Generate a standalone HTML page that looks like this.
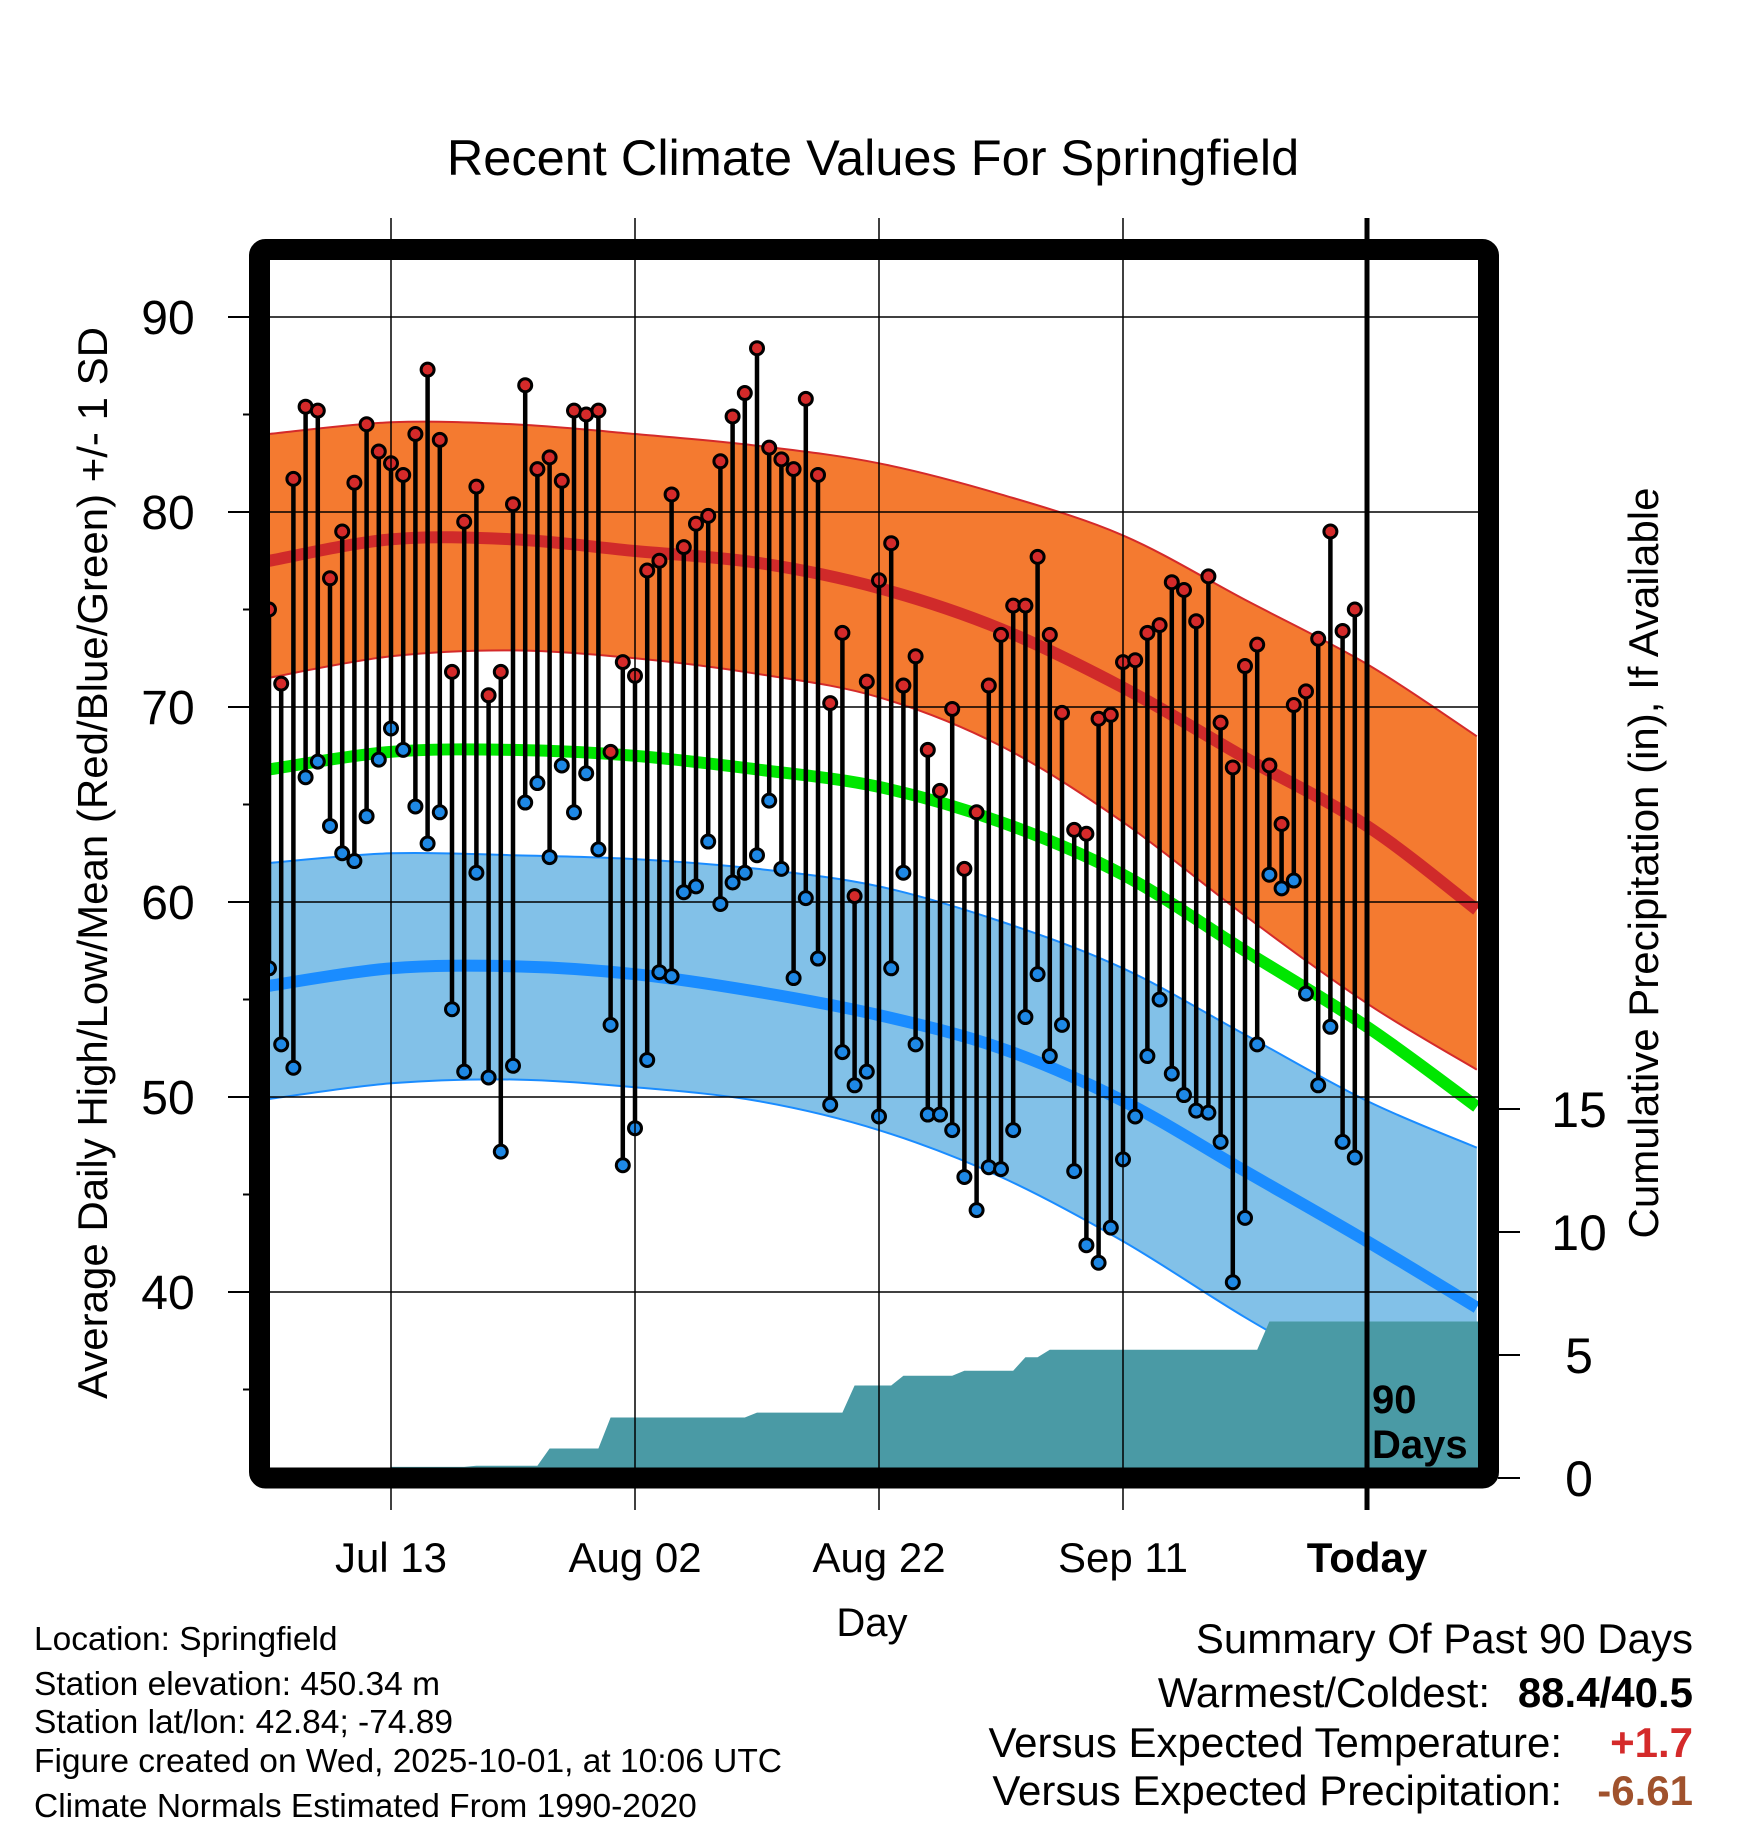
<!DOCTYPE html>
<html><head><meta charset="utf-8"><style>
html,body{margin:0;padding:0;background:#fff}
svg{display:block;font-family:"Liberation Sans",Arial,sans-serif}
</style></head><body>
<svg id="chart" width="1748" height="1828" viewBox="0 0 1748 1828" xmlns="http://www.w3.org/2000/svg">
<defs><clipPath id="plotclip"><rect x="270" y="260" width="1208" height="1208"/></clipPath></defs>
<g id="bg"></g>
<g id="plot" clip-path="url(#plotclip)"></g>
<g id="axes"></g>
<text x="873" y="175" font-size="50.5" text-anchor="middle">Recent Climate Values For Springfield</text>
<text transform="translate(107,863) rotate(-90)" font-size="42" text-anchor="middle">Average Daily High/Low/Mean (Red/Blue/Green) +/- 1 SD</text>
<text transform="translate(1658,863) rotate(-90)" font-size="42" text-anchor="middle">Cumulative Precipitation (in), If Available</text>
<text x="872" y="1636" font-size="40" text-anchor="middle">Day</text>
<g font-size="33.5">
<text x="34" y="1650">Location: Springfield</text>
<text x="34" y="1695">Station elevation: 450.34 m</text>
<text x="34" y="1733">Station lat/lon: 42.84; -74.89</text>
<text x="34" y="1772">Figure created on Wed, 2025-10-01, at 10:06 UTC</text>
<text x="34" y="1817">Climate Normals Estimated From 1990-2020</text>
</g>
<g font-size="42" text-anchor="end">
<text x="1693" y="1653">Summary Of Past 90 Days</text>
<text x="1490" y="1707">Warmest/Coldest:</text>
<text x="1693" y="1707" font-weight="bold">88.4/40.5</text>
<text x="1562" y="1757">Versus Expected Temperature:</text>
<text x="1693" y="1757" font-weight="bold" fill="#d42a2a">+1.7</text>
<text x="1562" y="1805">Versus Expected Precipitation:</text>
<text x="1693" y="1805" font-weight="bold" fill="#a0522d">-6.61</text>
</g>
</svg>
<script>
// ---- data ----
const highs=[75,71.2,81.7,85.4,85.2,76.6,79.0,81.5,84.5,83.1,82.5,81.9,84.0,87.3,83.7,71.8,79.5,81.3,70.6,71.8,80.4,86.5,82.2,82.8,81.6,85.2,85.0,85.2,67.7,72.3,71.6,77.0,77.5,80.9,78.2,79.4,79.8,82.6,84.9,86.1,88.4,83.3,82.7,82.2,85.8,81.9,70.2,73.8,60.3,71.3,76.5,78.4,71.1,72.6,67.8,65.7,69.9,61.7,64.6,71.1,73.7,75.2,75.2,77.7,73.7,69.7,63.7,63.5,69.4,69.6,72.3,72.4,73.8,74.2,76.4,76.0,74.4,76.7,69.2,66.9,72.1,73.2,67.0,64.0,70.1,70.8,73.5,79.0,73.9,75.0];
const lows=[56.6,52.7,51.5,66.4,67.2,63.9,62.5,62.1,64.4,67.3,68.9,67.8,64.9,63.0,64.6,54.5,51.3,61.5,51.0,47.2,51.6,65.1,66.1,62.3,67.0,64.6,66.6,62.7,53.7,46.5,48.4,51.9,56.4,56.2,60.5,60.8,63.1,59.9,61.0,61.5,62.4,65.2,61.7,56.1,60.2,57.1,49.6,52.3,50.6,51.3,49.0,56.6,61.5,52.7,49.1,49.1,48.3,45.9,44.2,46.4,46.3,48.3,54.1,56.3,52.1,53.7,46.2,42.4,41.5,43.3,46.8,49.0,52.1,55.0,51.2,50.1,49.3,49.2,47.7,40.5,43.8,52.7,61.4,60.7,61.1,55.3,50.6,53.6,47.7,46.9];
const dailyPrecip=[0,0,0,0,0,0,0,0,0,0,0.45,0,0,0,0,0,0,0.05,0,0,0,0,0,0.7,0,0,0,0,1.26,0,0,0,0,0,0,0,0,0,0,0,0.2,0,0,0,0,0,0,0,1.1,0,0,0,0.4,0,0,0,0,0.2,0,0,0,0,0.55,0,0.3,0,0,0,0,0,0,0,0,0,0,0,0,0,0,0,0,0,1.15,0,0,0,0,0,0,0];
const normDays=[0,10,20,30,40,50,60,70,80,90,99];
const normHigh=[77.5,78.6,78.6,78.0,77.4,76.1,74.0,71.0,67.4,63.9,59.6];
const normHighUp=[84.0,84.6,84.5,84.0,83.4,82.5,80.9,78.8,75.5,72.2,68.5];
const normHighDn=[71.5,72.6,72.9,72.5,71.7,70.5,68.0,64.1,59.3,54.8,51.4];
const normMean=[66.8,67.7,67.8,67.5,66.8,65.9,64.1,61.4,57.5,53.6,49.5];
const normLow=[55.7,56.6,56.7,56.3,55.4,54.2,52.5,49.8,46.2,42.6,39.2];
const normLowUp=[62.0,62.5,62.4,62.2,61.7,60.8,59.0,56.6,53.2,49.8,47.4];
const normLowDn=[49.9,50.7,50.9,50.5,49.8,48.3,45.9,42.6,38.7,35.1,31.5];
const xTickLabels=["Jul 13","Aug 02","Aug 22","Sep 11","Today"];
const xTickDays=[10,30,50,70,90];
const yTicks=[40,50,60,70,80,90];
const yMinorTicks=[35,45,55,65,75,85];
const pTicks=[0,5,10,15];

// ---- scales ----
const NS="http://www.w3.org/2000/svg";
const dayX=d=>269+12.2*d;
const tY=t=>317+(90-t)*19.5;
const pY=p=>1478-p*24.6;
function mk(tag,attrs,parent){const e=document.createElementNS(NS,tag);for(const k in attrs)e.setAttribute(k,attrs[k]);parent.appendChild(e);return e;}
const plot=document.getElementById('plot'), axes=document.getElementById('axes'), bg=document.getElementById('bg');

mk('rect',{x:270,y:260,width:1208,height:1208,fill:'#fff'},bg);

function pts(arr){return normDays.map((d,i)=>[dayX(d),tY(arr[i])]);}
function smooth(p,start){
  let s=(start?'M':'L')+p[0][0].toFixed(1)+','+p[0][1].toFixed(1);
  for(let i=0;i<p.length-1;i++){
    const p0=p[Math.max(0,i-1)],p1=p[i],p2=p[i+1],p3=p[Math.min(p.length-1,i+2)];
    const c1=[p1[0]+(p2[0]-p0[0])/6,p1[1]+(p2[1]-p0[1])/6];
    const c2=[p2[0]-(p3[0]-p1[0])/6,p2[1]-(p3[1]-p1[1])/6];
    s+=' C'+c1[0].toFixed(1)+','+c1[1].toFixed(1)+' '+c2[0].toFixed(1)+','+c2[1].toFixed(1)+' '+p2[0].toFixed(1)+','+p2[1].toFixed(1);
  }
  return s;
}
function line(arr){return smooth(pts(arr),true);}
function band(up,dn){return smooth(pts(up),true)+' '+smooth(pts(dn).reverse(),false)+' Z';}

let e;
e=mk('path',{d:band(normHighUp,normHighDn),fill:'#f47a30'},plot);


e=mk('path',{d:band(normLowUp,normLowDn),fill:'#82c1e8'},plot);


[[normHighUp,'#d42a2a',2,'high-upper-line'],[normHighDn,'#d42a2a',2,'high-lower-line'],[normLowUp,'#1a8cff',2,'low-upper-line'],[normLowDn,'#1a8cff',2,'low-lower-line'],[normHigh,'#d02a2a',12,'normal-high-line'],[normMean,'#00e600',12,'normal-mean-line'],[normLow,'#1a8cff',12,'normal-low-line']].forEach(a=>{
  const p=mk('path',{d:line(a[0]),fill:'none',stroke:a[1],'stroke-width':a[2]},plot);
  
  
});

// grid
yTicks.forEach(t=>{mk('line',{x1:270,x2:1478,y1:tY(t),y2:tY(t),stroke:'#000','stroke-width':1.5},plot);});
xTickDays.forEach(d=>{mk('line',{x1:dayX(d),x2:dayX(d),y1:218,y2:1510,stroke:'#000','stroke-width':1.5},axes);});

// precipitation
let cum=0, pd='M'+dayX(0)+','+pY(0);
dailyPrecip.forEach((v,i)=>{cum+=v;pd+=' L'+dayX(i).toFixed(1)+','+pY(cum).toFixed(1);});
pd+=' L1480,'+pY(cum).toFixed(1)+' L1480,'+pY(0)+' Z';
e=mk('path',{d:pd,fill:'#4a9aa5'},plot);



// stems and dots
highs.forEach((h,i)=>{
  const x=dayX(i);
  const s=mk('line',{x1:x,x2:x,y1:tY(h),y2:tY(lows[i]),stroke:'#000','stroke-width':4.5},plot);
  
  
});
highs.forEach((h,i)=>{
  const x=dayX(i);
  const a=mk('circle',{cx:x,cy:tY(h),r:6.5,fill:'#d42a2a',stroke:'#000','stroke-width':3},plot);
  
  
  const b=mk('circle',{cx:x,cy:tY(lows[i]),r:6.5,fill:'#1e88e5',stroke:'#000','stroke-width':3},plot);
  
  
});

// today line
e=mk('line',{x1:dayX(90),x2:dayX(90),y1:218,y2:1510,stroke:'#000','stroke-width':5},axes);


e=mk('text',{x:1372,y:1413,'font-size':40,'font-weight':'bold'},axes);e.textContent='90';


e=mk('text',{x:1372,y:1458,'font-size':40,'font-weight':'bold'},axes);e.textContent='Days';



// frame
e=mk('rect',{x:259.5,y:249.5,width:1229,height:1228.5,fill:'none',stroke:'#000','stroke-width':21,rx:6},axes);



// y ticks
yTicks.forEach(t=>{
  mk('line',{x1:228,x2:250,y1:tY(t),y2:tY(t),stroke:'#000','stroke-width':2},axes);
  const l=mk('text',{x:168,y:tY(t)+17,'font-size':48,'text-anchor':'middle'},axes);l.textContent=t;
  
  
});
yMinorTicks.forEach(t=>{mk('line',{x1:243,x2:250,y1:tY(t),y2:tY(t),stroke:'#000','stroke-width':2},axes);});
pTicks.forEach(p=>{
  mk('line',{x1:1498,x2:1520,y1:pY(p),y2:pY(p),stroke:'#000','stroke-width':2},axes);
  const l=mk('text',{x:1579,y:pY(p)+18,'font-size':50,'text-anchor':'middle'},axes);l.textContent=p;
  
  
});
xTickLabels.forEach((s,i)=>{
  const l=mk('text',{x:dayX(xTickDays[i]),y:1572,'font-size':42,'text-anchor':'middle','font-weight':s==='Today'?'bold':'normal'},axes);l.textContent=s;
  
  
});
</script>
</body></html>
